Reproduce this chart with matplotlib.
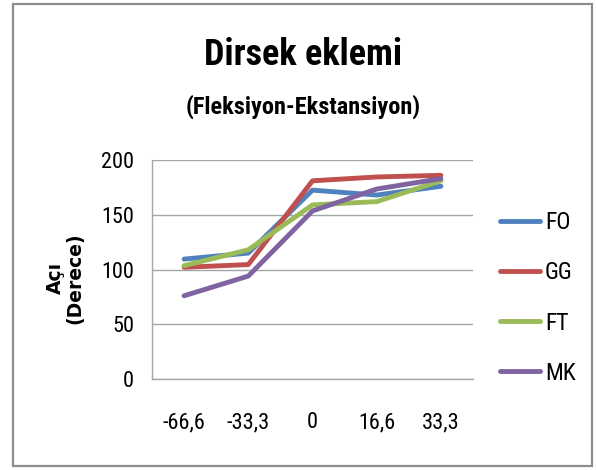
import matplotlib
matplotlib.use("Agg")
import matplotlib.pyplot as plt
from matplotlib import font_manager
from matplotlib.patches import Rectangle

# Dirsek eklemi açı ölçümleri (Fleksiyon-Ekstansiyon)
kategoriler = ["-66,6", "-33,3", "0", "16,6", "33,3"]
fo = [109.5, 115, 172.5, 168, 176]
gg = [102, 104.5, 181, 184.5, 186]
ft = [103.5, 118, 159, 162, 181]
mk = [76, 94, 153.5, 173.5, 183]

seriler = ["FO", "GG", "FT", "MK"]
renkler = ["#4F81BD", "#C0504D", "#9BBB59", "#8064A2"]

mevcut = {f.name for f in font_manager.fontManager.ttflist}
dar = [f for f in ["Roboto Condensed", "Lato"] if f in mevcut] + ["DejaVu Sans"]

W, H = 596, 470
fig = plt.figure(figsize=(W / 100, H / 100), dpi=100)

# dış çerçeve
fig.patches.append(Rectangle((13 / W, 1 - 466 / H), 579 / W, 462 / H,
                             transform=fig.transFigure, fill=False,
                             edgecolor="#8C8C8C", linewidth=1.6))

ax = fig.add_axes([152 / W, 1 - 379 / H, 321 / W, 219 / H])
x = range(len(kategoriler))
for ad, veri, renk in zip(seriler, [fo, gg, ft, mk], renkler):
    ax.plot(x, veri, color=renk, linewidth=3.5, label=ad,
            solid_capstyle="round", solid_joinstyle="round")

ax.set_xlim(-0.5, len(kategoriler) - 0.5)
ax.set_ylim(0, 200)
ax.set_yticks([0, 50, 100, 150, 200])
ax.set_xticks(list(x))
ax.set_xticklabels(kategoriler)
ax.yaxis.grid(True, color="#A6A6A6", linewidth=1.0)
ax.set_axisbelow(True)
for s in ["top", "right"]:
    ax.spines[s].set_visible(False)
for s in ["left", "bottom"]:
    ax.spines[s].set_color("#A6A6A6")
    ax.spines[s].set_linewidth(1.0)
ax.tick_params(axis="both", length=0, labelsize=16, colors="#000000")
ax.tick_params(axis="y", pad=13)
ax.tick_params(axis="x", pad=24)
for lbl in ax.get_xticklabels() + ax.get_yticklabels():
    lbl.set_family(dar)

fig.text(303 / W, 1 - 55 / H, "Dirsek eklemi", ha="center", va="center",
         fontsize=26, fontweight="bold", family=dar)
fig.text(303 / W, 1 - 107 / H, "(Fleksiyon-Ekstansiyon)", ha="center",
         va="center", fontsize=17.5, fontweight="bold", family=dar)
fig.text(65 / W, 1 - 278 / H, "Açı\n(Derece)", ha="center", va="center",
         rotation=90, fontsize=13.5, fontweight="bold", family="DejaVu Sans",
         multialignment="center", linespacing=1.0)

fig.legend(loc="center left", bbox_to_anchor=(500 / W, 1 - 298 / H),
           frameon=False, prop={"family": dar, "size": 17},
           handlelength=1.7, handletextpad=0.2, labelspacing=1.15,
           borderpad=0, borderaxespad=0)

fig.savefig("out.png", dpi=100)
